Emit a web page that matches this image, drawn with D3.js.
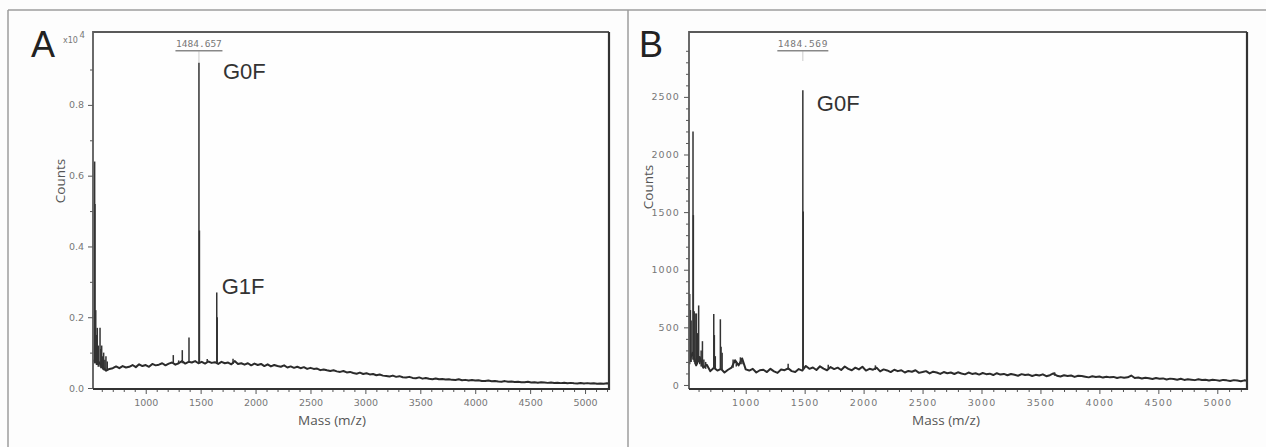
<!DOCTYPE html>
<html><head><meta charset="utf-8">
<script src="https://cdn.jsdelivr.net/npm/d3@7"></script>
<style>body{margin:0;background:#fff}svg{display:block}</style>
</head><body>
<svg id="c" width="1266" height="447"></svg>
<script>
// ---------- DATA ----------
const xTickLabels = [1000,1500,2000,2500,3000,3500,4000,4500,5000];
const yTicksA = [0,2000,4000,6000,8000];          // counts, shown as x10^4
const yTicksB = [0,500,1000,1500,2000,2500];

// Panel A baseline [mass, counts]
const baselineA = [[520,760],[550,820],[580,700],[610,580],[640,490],[670,540],[700,560],[730,610],[760,560],[790,620],[820,580],[850,600],[880,650],[910,590],[940,670],[970,620],[1000,650],[1030,600],[1060,680],[1090,640],[1120,660],[1150,700],[1180,640],[1210,690],[1240,720],[1270,660],[1300,700],[1330,760],[1360,690],[1390,740],[1420,720],[1450,760],[1480,700],[1510,740],[1540,690],[1570,750],[1600,710],[1630,730],[1660,680],[1690,740],[1720,700],[1750,720],[1780,670],[1810,760],[1840,680],[1870,700],[1900,660],[1930,700],[1960,640],[1990,690],[2020,650],[2050,680],[2080,620],[2110,670],[2140,610],[2170,650],[2200,620],[2230,600],[2260,640],[2290,580],[2320,610],[2350,570],[2380,600],[2410,560],[2440,590],[2470,540],[2500,570],[2530,540],[2560,550],[2590,505],[2620,525],[2650,500],[2680,480],[2710,500],[2740,470],[2770,455],[2800,480],[2830,440],[2860,455],[2890,425],[2920,405],[2950,435],[2980,395],[3010,415],[3040,385],[3070,395],[3100,360],[3130,380],[3160,350],[3190,340],[3220,325],[3250,350],[3280,315],[3310,335],[3340,305],[3370,295],[3400,315],[3430,285],[3460,275],[3490,300],[3520,265],[3550,285],[3580,260],[3610,250],[3640,270],[3670,245],[3700,255],[3730,240],[3760,250],[3790,230],[3820,225],[3850,245],[3880,220],[3910,230],[3940,215],[3970,225],[4000,210],[4030,220],[4060,200],[4090,195],[4120,210],[4150,190],[4180,200],[4210,185],[4240,180],[4270,195],[4300,175],[4330,185],[4360,170],[4390,180],[4420,165],[4450,160],[4480,175],[4510,158],[4540,165],[4570,150],[4600,162],[4630,155],[4660,145],[4690,158],[4720,142],[4750,150],[4780,138],[4810,148],[4840,135],[4870,145],[4900,132],[4930,128],[4960,142],[4990,130],[5020,138],[5050,125],[5080,135],[5110,122],[5140,130],[5170,120],[5200,132],[5218,128]];

// Panel A peaks [mass, top counts, base counts]
const peaksA = [[535,6400,700],[538,5200,700],[545,2200,700],[552,1500,650],[559,1700,650],[568,1200,600],[584,1700,600],[592,1100,560],[599,1200,560],[609,900,520],[617,1000,500],[628,800,500],[638,900,500],[650,750,520],[1251,930,680],[1300,780,700],[1333,1070,700],[1394,1430,720],[1484.657,9190,720],[1489,4450,720],[1560,820,710],[1646.7,2700,700],[1651,2000,700],[1795,830,680]];

// Panel B baseline [mass, counts]
const baselineB = [[520,210],[550,280],[580,170],[610,240],[640,150],[670,175],[700,120],[730,150],[760,125],[790,140],[820,108],[850,132],[880,150],[910,215],[940,170],[970,230],[1000,135],[1030,125],[1060,140],[1090,108],[1120,128],[1150,132],[1180,112],[1210,140],[1240,118],[1270,105],[1300,135],[1330,128],[1360,145],[1390,120],[1420,112],[1450,138],[1480,125],[1510,165],[1540,140],[1570,152],[1600,130],[1630,162],[1660,142],[1690,128],[1720,155],[1750,138],[1780,150],[1810,130],[1840,160],[1870,140],[1900,128],[1930,150],[1960,135],[1990,158],[2020,125],[2050,140],[2080,132],[2110,150],[2140,118],[2170,135],[2200,126],[2230,112],[2260,132],[2290,120],[2320,128],[2350,108],[2380,122],[2410,115],[2440,128],[2470,105],[2500,112],[2530,120],[2560,100],[2590,115],[2620,108],[2650,96],[2680,112],[2710,102],[2740,108],[2770,95],[2800,110],[2830,100],[2860,92],[2890,108],[2920,96],[2950,102],[2980,90],[3010,104],[3040,94],[3070,98],[3100,86],[3130,102],[3160,90],[3190,96],[3220,84],[3250,95],[3280,88],[3310,80],[3340,94],[3370,86],[3400,90],[3430,78],[3460,88],[3490,82],[3520,92],[3550,76],[3580,85],[3610,100],[3640,80],[3670,74],[3700,84],[3730,77],[3760,82],[3790,70],[3820,80],[3850,78],[3880,72],[3910,66],[3940,76],[3970,70],[4000,74],[4030,64],[4060,72],[4090,66],[4120,70],[4150,60],[4180,68],[4210,62],[4240,66],[4270,82],[4300,60],[4330,64],[4360,56],[4390,62],[4420,58],[4450,52],[4480,60],[4510,54],[4540,57],[4570,48],[4600,55],[4630,52],[4660,46],[4690,54],[4720,44],[4750,50],[4780,46],[4810,42],[4840,50],[4870,44],[4900,46],[4930,38],[4960,45],[4990,42],[5020,36],[5050,44],[5080,40],[5110,34],[5140,42],[5170,38],[5200,33],[5230,40],[5252,36]];

// Panel B peaks [mass, top counts, base counts]
const peaksB = [[525,790,180],[531,650,200],[537,560,200],[553,2200,220],[556,1474,220],[563,640,200],[571,620,180],[582,621,180],[590,450,200],[601,690,200],[610,250,180],[622,300,160],[633,380,160],[645,220,150],[660,200,140],[729,615,140],[734,433,140],[742,250,140],[785,570,140],[791,332,140],[800,280,130],[893,220,150],[920,200,160],[955,240,180],[968,230,180],[1360,185,130],[1484.569,2558,130],[1488,1505,130],[1700,175,140],[2100,170,130],[3620,110,80]];

// Labelled peaks
const labelsA = [{mass:1484.657, top:9190, text:"G0F", tag:"1484.657"},{mass:1646.7, top:2700, text:"G1F"}];
const labelsB = [{mass:1484.569, top:2558, text:"G0F", tag:"1484.569"}];

// ---------- DRAW ----------
const svg = d3.select("#c");
svg.append("rect").attr("width",1266).attr("height",447).attr("fill","#fdfdfd");

// outer frame
const frame = svg.append("g").attr("stroke","#9c9c9c").attr("stroke-width",1.5).attr("fill","none");
frame.append("line").attr("x1",8).attr("x2",1266).attr("y1",10).attr("y2",10);
frame.append("line").attr("x1",8).attr("x2",8).attr("y1",10).attr("y2",447);
frame.append("line").attr("x1",628).attr("x2",628).attr("y1",10).attr("y2",447);

const panels = [
  {id:"A", letter:"A", left:93, right:609, top:32, bottom:389, xDomain:[520,5218], yDomain:[-28,10060],
   baseline:baselineA, peaks:peaksA, labels:labelsA, yTicks:yTicksA, yMinor:[1000,3000,5000,7000,9000],
   yFmt:d=>(d/1e4).toFixed(1), letterX:31, countsX:60, countsY:181, massX:332, tickLS:0,
   tagDot:12, g0dx:24, g0dy:16, g1dx:5, g1dy:1.5, exp:true},
  {id:"B", letter:"B", left:689, right:1247, top:32, bottom:389, xDomain:[519,5252], yDomain:[-35,3063],
   baseline:baselineB, peaks:peaksB, labels:labelsB, yTicks:yTicksB, yMinor:d3.range(100,3001,100).filter(v=>v%500),
   yFmt:d=>String(d), letterX:639, countsX:648, countsY:187, massX:946, tickLS:1.1,
   tagDot:10, g0dx:14, g0dy:21, exp:false}
];

panels.forEach(p=>{
  const x = d3.scaleLinear().domain(p.xDomain).range([p.left,p.right]);
  const y = d3.scaleLinear().domain(p.yDomain).range([p.bottom,p.top]);
  const g = svg.append("g");
  g.append("rect").attr("x",p.left).attr("y",p.top).attr("width",p.right-p.left).attr("height",p.bottom-p.top).attr("fill","#fefefe");

  const clipId = "clip"+p.id;
  g.append("clipPath").attr("id",clipId).append("rect")
    .attr("x",p.left).attr("y",p.top).attr("width",p.right-p.left).attr("height",p.bottom-p.top);
  const plot = g.append("g").attr("clip-path",`url(#${clipId})`);

  // spectrum baseline
  plot.append("path").datum(p.baseline)
    .attr("d", d3.line().x(d=>x(d[0])).y(d=>y(d[1])))
    .attr("fill","none").attr("stroke","#2b2b2b").attr("stroke-width",2).attr("stroke-linejoin","round");
  // peaks
  plot.selectAll("line.pk").data(p.peaks).join("line").attr("class","pk")
    .attr("x1",d=>x(d[0])).attr("x2",d=>x(d[0]))
    .attr("y1",d=>y(d[2])).attr("y2",d=>y(d[1]))
    .attr("stroke","#333").attr("stroke-width",1.5);

  // axes
  const xMinor = d3.range(600,p.xDomain[1],100).filter(v=>v%500);
  const styleAxis = sel=>{ sel.select(".domain").remove(); sel.selectAll("line").attr("stroke","#555").attr("stroke-width",1);
    sel.selectAll("text").attr("fill","#777").style("font-family","DejaVu Sans").style("font-size","9.5px").style("letter-spacing",p.tickLS+"px"); };
  g.append("g").attr("transform",`translate(0,${p.bottom})`)
    .call(d3.axisBottom(x).tickValues(xTickLabels).tickSize(5).tickPadding(5).tickFormat(d3.format("d"))).call(styleAxis);
  g.append("g").attr("transform",`translate(0,${p.bottom})`)
    .call(d3.axisBottom(x).tickValues(xMinor).tickSize(3).tickFormat("")).call(styleAxis);
  g.append("g").attr("transform",`translate(${p.left},0)`)
    .call(d3.axisLeft(y).tickValues(p.yTicks).tickSize(5).tickPadding(4).tickFormat(p.yFmt)).call(styleAxis);
  g.append("g").attr("transform",`translate(${p.left},0)`)
    .call(d3.axisLeft(y).tickValues(p.yMinor).tickSize(3).tickFormat("")).call(styleAxis);

  // plot box
  g.append("path").attr("d",`M${p.left},${p.bottom}V${p.top}H${p.right}`).attr("fill","none").attr("stroke","#5a5a5a").attr("stroke-width",1.8);
  g.append("path").attr("d",`M${p.right},${p.top}V${p.bottom}H${p.left}`).attr("fill","none").attr("stroke","#333").attr("stroke-width",2.2);

  // axis titles
  g.append("text").attr("x",p.massX).attr("y",425).attr("text-anchor","middle")
    .style("font-family","Open Sans").style("font-size","13.5px").attr("fill","#555").text("Mass (m/z)");
  g.append("text").attr("transform",`translate(${p.countsX},${p.countsY}) rotate(-90)`).attr("text-anchor","middle")
    .attr("dy","0.35em").style("font-family","Open Sans").style("font-size","13.5px").attr("fill","#555").text("Counts");

  // panel letter
  g.append("text").attr("x",p.letterX).attr("y",57).style("font-family","Liberation Sans").style("font-size","36px")
    .attr("fill","#222").text(p.letter);
  if(p.exp){
    const t = g.append("text").attr("x",63).attr("y",43).style("font-family","DejaVu Sans").style("font-size","8px").attr("fill","#777");
    t.append("tspan").text("x10");
    t.append("tspan").attr("dx",1.5).attr("dy",-5).style("font-size","8.5px").text("4");
  }

  // labels
  p.labels.forEach((L,i)=>{
    const px = x(L.mass), py = y(L.top);
    if(L.tag){
      g.append("text").attr("x",px).attr("y",47).attr("text-anchor","middle")
        .style("font-family","DejaVu Sans Mono").style("font-size","9.5px").style("letter-spacing",(p.tickLS*0.5)+"px")
        .attr("fill","#777").text(L.tag);
      const w = p.id==="A"?23.5:25.5;
      g.append("line").attr("x1",px-w).attr("x2",px+w).attr("y1",50.7).attr("y2",50.7).attr("stroke","#888").attr("stroke-width",1.5);
      g.append("line").attr("x1",px).attr("x2",px).attr("y1",51.5).attr("y2",51.5+p.tagDot)
        .attr("stroke","#999").attr("stroke-width",1).attr("stroke-dasharray","1,1");
      g.append("text").attr("x",px+p.g0dx).attr("y",py+p.g0dy).style("font-family","Liberation Sans").style("font-size","22px")
        .attr("fill","#333").text(L.text);
    } else {
      g.append("text").attr("x",px+p.g1dx).attr("y",py+p.g1dy).style("font-family","Liberation Sans").style("font-size","22px")
        .attr("fill","#333").text(L.text);
    }
  });
});
</script>
</body></html>
